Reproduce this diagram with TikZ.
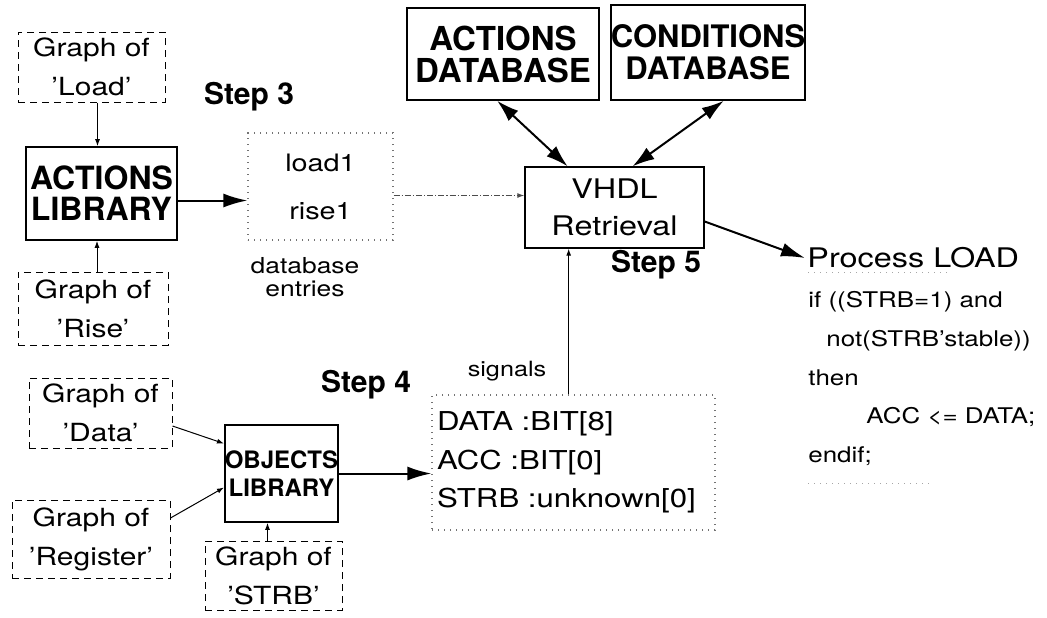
\documentclass[tikz,border=0pt]{standalone}
\usepackage{fontspec}
\setmainfont{TeX Gyre Heros}[FakeStretch=1.2]
\newfontfamily\headfont{TeX Gyre Heros}
\usepackage{tikz}
\usetikzlibrary{arrows.meta,calc}

\begin{document}
\begin{tikzpicture}[x=0.5pt,y=-0.5pt,
   graphbox/.style={draw,dash pattern=on 3.5pt off 2.5pt,line width=0.5pt,inner sep=0pt,
     align=center,font=\fontsize{12.5}{19.5}\selectfont},
   libbox/.style={draw,line width=0.8pt,inner sep=0pt,align=center,
     font=\headfont\bfseries\fontsize{16}{15.5}\selectfont},
   listbox/.style={draw=black!55,dash pattern=on 0.6pt off 2.4pt,line width=0.6pt,inner sep=0pt},
   stepnote/.style={font=\headfont\bfseries\fontsize{15}{16}\selectfont},
   smallnote/.style={align=center,font=\fontsize{11}{11.5}\selectfont},
   bigarrow/.style={-{Latex[length=12pt,width=7pt]},line width=1pt},
   thinarrow/.style={-{Latex[length=3.5pt,width=2.5pt]},line width=0.5pt}]
   \useasboundingbox (0,0) rectangle (1047,617);

   % actions side
   \node[graphbox,minimum width=73.5pt,minimum height=35pt] (load) at (91.5,67) {Graph of\\'Load'};
   \node[libbox,minimum width=75.5pt,minimum height=46.5pt] (actlib) at (101.5,193.5) {ACTIONS\\LIBRARY};
   \node[graphbox,minimum width=75pt,minimum height=36.5pt] (rise) at (93,308.5) {Graph of\\'Rise'};
   \node[stepnote] (step3) at (249,97) {Step 3};
   \node[listbox,minimum width=72.5pt,minimum height=53.5pt,align=center,
     font=\fontsize{12}{24}\selectfont] (entries) at (320.5,186.5) {load1\\rise1};
   \node[smallnote] (entcap) at (305,277) {database\\entries};

   % databases and retrieval
   \node[libbox,minimum width=96pt,minimum height=46pt,
     font=\headfont\bfseries\fontsize{16.5}{16}\selectfont] (actdb) at (503,54) {ACTIONS\\DATABASE};
   \node[libbox,minimum width=97pt,minimum height=47.5pt,
     font=\headfont\bfseries\fontsize{15.5}{16}\selectfont] (condb) at (708,52.5) {CONDITIONS\\DATABASE};
   \node[draw,line width=0.7pt,inner sep=0pt,minimum width=89.5pt,minimum height=40.5pt,
     align=center,font=\fontsize{13.5}{18.5}\selectfont] (vhdl) at (614.5,207.5) {VHDL\\Retrieval};
   \node[stepnote] (step5) at (656,265) {Step 5};

   % generated process
   \node[anchor=west,inner sep=1pt,font=\fontsize{13.5}{16}\selectfont] (proc) at (805,258) {Process LOAD};
   \node[anchor=north west,inner sep=0pt,align=left,font=\fontsize{10.8}{19.4}\selectfont] (code)
     at (808,291) {if ((STRB=1) and\\\hspace{9pt}not(STRB'stable))\\then\\\hspace{29pt}ACC <= DATA;\\endif;};
   \draw[black!35,dash pattern=on 0.6pt off 2.4pt,line width=0.5pt] (808,272) -- (950,272) (808,483) -- (930,483);

   % objects side
   \node[graphbox,minimum width=71.5pt,minimum height=35pt] (data) at (100.5,413) {Graph of\\'Data'};
   \node[graphbox,minimum width=79pt,minimum height=39pt] (reg) at (91,539) {Graph of\\'Register'};
   \node[graphbox,minimum width=68.5pt,minimum height=34.5pt] (strb) at (273.5,575.5) {Graph of\\'STRB'};
   \node[libbox,minimum width=51.5pt,minimum height=48.5pt,
     font=\headfont\bfseries\fontsize{12}{14}\selectfont] (objlib) at (281.5,473.5) {OBJECTS\\LIBRARY};
   \node[stepnote] (step4) at (366,385) {Step 4};
   \node[smallnote,font=\fontsize{10.5}{12}\selectfont] (sigcap) at (507,371) {signals};
   \node[listbox,text width=136.5pt,inner xsep=2.5pt,minimum height=67.5pt,align=left,
     font=\fontsize{13}{19.25}\selectfont] (sigbox) at (573.5,462.5)
     {DATA :BIT[8]\\ACC :BIT[0]\\STRB :unknown[0]};

   % connections
   \draw[thinarrow] ([xshift=3pt]load.south) -- ([xshift=3pt]load.south |- actlib.north);
   \draw[thinarrow] ([xshift=2pt]rise.north) -- ([xshift=2pt]rise.north |- actlib.south);
   \draw[bigarrow] ([yshift=-3.5pt]actlib.east) -- ([yshift=-3.5pt]actlib.east -| entries.west);
   \draw[thinarrow,black!70,dash pattern=on 3pt off 1pt on 0.6pt off 1pt]
     ([yshift=-4.5pt]entries.east) -- ([yshift=-4.5pt]entries.east -| vhdl.west);
   \draw[{Latex[length=11pt,width=7pt]}-{Latex[length=11pt,width=7pt]},line width=1pt]
     ($(actdb.south west)!0.47!(actdb.south east)$) -- ($(vhdl.north west)!0.24!(vhdl.north east)$);
   \draw[{Latex[length=11pt,width=7pt]}-{Latex[length=11pt,width=7pt]},line width=1pt]
     ($(condb.south west)!0.58!(condb.south east)$) -- ($(vhdl.north west)!0.6!(vhdl.north east)$);
   \draw[bigarrow] ([yshift=-7pt]vhdl.east) -- (proc.west);
   \coordinate (sigtop) at ($(sigbox.north west)!0.483!(sigbox.north east)$);
   \draw[thinarrow] (sigtop) -- (sigtop |- vhdl.south);
   \draw[bigarrow] (objlib.east) -- (objlib.east -| sigbox.west);
   \draw[thinarrow] ([yshift=-6.5pt]data.east) -- ([yshift=15pt]objlib.west);
   \draw[thinarrow] ([yshift=10.5pt]reg.east) -- ([yshift=-7pt]objlib.west);
   \draw[thinarrow] ([xshift=-3pt]strb.north) -- ([xshift=-3pt]strb.north |- objlib.south);
\end{tikzpicture}
\end{document}
